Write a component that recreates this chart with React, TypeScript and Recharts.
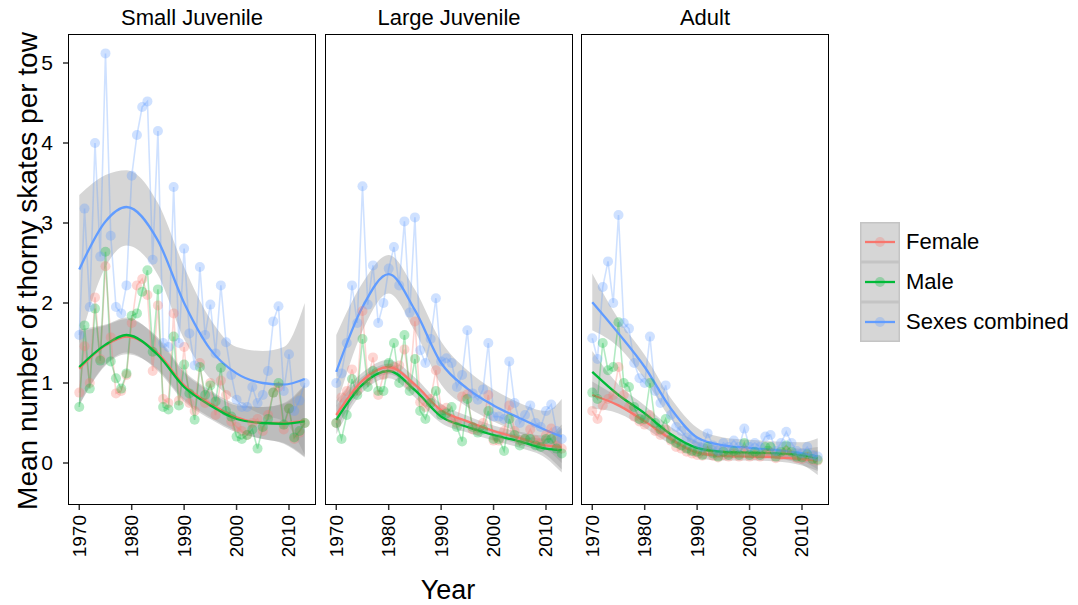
import { ComposedChart, Line, Area, XAxis, YAxis } from 'recharts';

const years = [
  1970, 1971, 1972, 1973, 1974, 1975, 1976, 1977, 1978, 1979,
  1980, 1981, 1982, 1983, 1984, 1985, 1986, 1987, 1988, 1989,
  1990, 1991, 1992, 1993, 1994, 1995, 1996, 1997, 1998, 1999,
  2000, 2001, 2002, 2003, 2004, 2005, 2006, 2007, 2008, 2009,
  2010, 2011, 2012, 2013,
];

const panels = ['Small Juvenile', 'Large Juvenile', 'Adult'];
const seriesNames = ['Female', 'Male', 'Sexes combined'];
const xTicks = [1970, 1980, 1990, 2000, 2010];
const yTicks = [0, 1, 2, 3, 4, 5];

// Small Juvenile
const sjFemale = [0.88, 1.46, 1.0, 2.07, 1.3, 2.46, 1.57, 0.87, 0.9, 1.1, 1.75, 2.22, 2.3, 2.1, 1.15, 1.97, 0.8, 0.75, 1.87, 0.78, 1.45, 0.75, 0.65, 1.25, 0.75, 1.0, 0.6, 1.03, 0.85, 0.52, 0.45, 0.4, 0.35, 0.5, 0.55, 0.4, 0.6, 0.88, 0.95, 0.42, 0.68, 0.3, 0.38, 0.5];
const sjMale = [0.7, 1.72, 0.93, 1.93, 1.28, 2.64, 1.27, 1.06, 0.93, 1.12, 1.84, 1.87, 2.14, 2.41, 1.39, 2.17, 0.7, 0.67, 1.58, 0.72, 1.23, 0.87, 0.54, 1.2, 0.85, 0.97, 0.77, 1.19, 0.65, 0.58, 0.33, 0.3, 0.35, 0.42, 0.18, 0.45, 0.55, 0.88, 1.0, 0.48, 0.68, 0.32, 0.4, 0.5];
const sjCombined = [1.6, 3.18, 1.95, 4.0, 2.58, 5.12, 2.84, 1.95, 1.87, 2.22, 3.59, 4.1, 4.45, 4.52, 2.54, 4.15, 1.5, 1.45, 3.45, 1.5, 2.68, 1.62, 1.22, 2.45, 1.6, 1.98, 1.37, 2.22, 1.51, 1.1, 0.79, 0.7, 0.7, 0.95, 0.75, 0.85, 1.15, 1.77, 1.96, 0.9, 1.36, 0.65, 0.78, 1.0];

const sjKnots = [1970, 1975, 1979, 1985, 1990, 1995, 2000, 2005, 2009, 2013];
const sjFemaleFit = [1.18, 1.47, 1.58, 1.37, 0.97, 0.74, 0.57, 0.5, 0.5, 0.53];
const sjFemaleLo = [0.72, 1.22, 1.36, 1.17, 0.79, 0.57, 0.4, 0.3, 0.25, 0.08];
const sjFemaleHi = [1.64, 1.72, 1.8, 1.57, 1.15, 0.91, 0.74, 0.7, 0.75, 0.98];
const sjMaleFit = [1.2, 1.48, 1.6, 1.35, 0.95, 0.72, 0.55, 0.5, 0.49, 0.52];
const sjMaleLo = [0.73, 1.23, 1.38, 1.15, 0.77, 0.55, 0.38, 0.3, 0.24, 0.07];
const sjMaleHi = [1.67, 1.73, 1.82, 1.55, 1.13, 0.89, 0.72, 0.7, 0.74, 0.97];
const sjCombinedFit = [2.42, 3.02, 3.2, 2.78, 2.0, 1.42, 1.12, 1.0, 0.98, 1.05];
const sjCombinedLo = [1.5, 2.45, 2.72, 2.35, 1.55, 1.05, 0.78, 0.6, 0.52, 0.1];
const sjCombinedHi = [3.35, 3.6, 3.66, 3.25, 2.45, 1.8, 1.45, 1.4, 1.45, 2.0];

// Large Juvenile
const ljFemale = [0.5, 0.82, 0.9, 1.17, 0.9, 1.9, 1.03, 1.32, 0.85, 1.1, 1.18, 1.2, 1.22, 1.42, 0.98, 1.77, 0.76, 0.7, 0.8, 1.16, 0.67, 0.69, 0.55, 0.5, 0.83, 0.86, 0.42, 0.41, 0.5, 0.85, 0.28, 0.28, 0.4, 0.72, 0.4, 0.28, 0.3, 0.42, 0.28, 0.25, 0.35, 0.43, 0.22, 0.18];
const ljMale = [0.5, 0.3, 0.6, 1.05, 0.85, 1.55, 0.95, 1.15, 0.9, 0.9, 1.25, 1.5, 1.0, 1.6, 0.9, 1.3, 0.65, 0.55, 0.75, 0.9, 0.6, 0.62, 0.7, 0.45, 0.27, 0.8, 0.45, 0.38, 0.42, 0.65, 0.3, 0.3, 0.15, 0.55, 0.35, 0.22, 0.3, 0.3, 0.22, 0.2, 0.3, 0.3, 0.18, 0.12];
const ljCombined = [1.0, 1.12, 1.5, 2.22, 1.75, 3.46, 1.98, 2.47, 1.75, 2.0, 2.43, 2.7, 2.22, 3.02, 1.88, 3.07, 1.41, 1.25, 1.55, 2.06, 1.27, 1.31, 1.25, 0.95, 1.1, 1.66, 0.87, 0.79, 0.92, 1.5, 0.58, 0.58, 0.55, 1.27, 0.75, 0.5, 0.6, 0.72, 0.5, 0.45, 0.65, 0.73, 0.4, 0.3];

const ljKnots = [1970, 1975, 1980, 1985, 1990, 1995, 2000, 2005, 2010, 2013];
const ljFemaleFit = [0.6, 1.03, 1.2, 0.98, 0.66, 0.52, 0.4, 0.31, 0.22, 0.2];
const ljFemaleLo = [0.42, 0.93, 1.11, 0.89, 0.58, 0.45, 0.33, 0.23, 0.1, -0.08];
const ljFemaleHi = [0.78, 1.13, 1.29, 1.07, 0.74, 0.59, 0.47, 0.39, 0.34, 0.48];
const ljMaleFit = [0.54, 0.98, 1.15, 0.91, 0.58, 0.45, 0.35, 0.27, 0.18, 0.16];
const ljMaleLo = [0.36, 0.88, 1.06, 0.82, 0.5, 0.38, 0.28, 0.19, 0.06, -0.12];
const ljMaleHi = [0.72, 1.08, 1.24, 1.0, 0.66, 0.52, 0.42, 0.35, 0.3, 0.44];
const ljCombinedFit = [1.14, 1.95, 2.36, 1.91, 1.25, 0.93, 0.72, 0.56, 0.41, 0.33];
const ljCombinedLo = [0.7, 1.65, 2.12, 1.65, 0.98, 0.7, 0.52, 0.37, 0.18, 0.0];
const ljCombinedHi = [1.6, 2.25, 2.6, 2.17, 1.52, 1.16, 0.92, 0.75, 0.65, 0.8];

// Adult
const adFemale = [0.65, 0.55, 0.72, 0.8, 0.85, 1.2, 0.85, 0.7, 0.58, 0.52, 0.48, 0.6, 0.4, 0.35, 0.42, 0.28, 0.2, 0.18, 0.14, 0.12, 0.1, 0.09, 0.15, 0.09, 0.07, 0.1, 0.08, 0.12, 0.08, 0.16, 0.08, 0.1, 0.08, 0.12, 0.13, 0.06, 0.1, 0.15, 0.1, 0.06, 0.05, 0.08, 0.04, 0.03];
const adMale = [0.88, 0.8, 1.5, 1.16, 1.2, 1.76, 1.0, 0.95, 0.7, 0.55, 0.55, 1.0, 0.5, 0.42, 0.55, 0.3, 0.25, 0.22, 0.18, 0.15, 0.14, 0.1, 0.2, 0.12, 0.08, 0.14, 0.1, 0.15, 0.1, 0.25, 0.1, 0.14, 0.1, 0.2, 0.2, 0.08, 0.14, 0.22, 0.14, 0.08, 0.07, 0.11, 0.05, 0.04];
const adCombined = [1.56, 1.3, 2.2, 2.52, 2.0, 3.1, 1.75, 1.68, 1.25, 1.06, 1.0, 1.58, 0.9, 0.75, 0.97, 0.6, 0.45, 0.4, 0.32, 0.3, 0.25, 0.2, 0.37, 0.22, 0.15, 0.25, 0.2, 0.28, 0.2, 0.43, 0.2, 0.25, 0.2, 0.33, 0.35, 0.15, 0.25, 0.39, 0.25, 0.15, 0.12, 0.2, 0.1, 0.08];

const adKnots = [1970, 1975, 1980, 1985, 1990, 1995, 2000, 2005, 2010, 2013];
const adFemaleFit = [0.85, 0.72, 0.52, 0.3, 0.13, 0.09, 0.08, 0.07, 0.05, 0.03];
const adFemaleLo = [0.68, 0.62, 0.44, 0.23, 0.07, 0.03, 0.03, 0.02, -0.03, -0.1];
const adFemaleHi = [1.02, 0.82, 0.6, 0.37, 0.19, 0.15, 0.13, 0.12, 0.13, 0.16];
const adMaleFit = [1.14, 0.85, 0.62, 0.36, 0.19, 0.14, 0.13, 0.12, 0.1, 0.06];
const adMaleLo = [0.88, 0.72, 0.52, 0.27, 0.11, 0.07, 0.07, 0.06, 0.02, -0.08];
const adMaleHi = [1.4, 0.98, 0.72, 0.45, 0.27, 0.21, 0.19, 0.18, 0.18, 0.2];
const adCombinedFit = [2.01, 1.62, 1.2, 0.68, 0.32, 0.22, 0.19, 0.16, 0.12, 0.08];
const adCombinedLo = [1.66, 1.45, 1.05, 0.55, 0.2, 0.12, 0.1, 0.06, -0.02, -0.15];
const adCombinedHi = [2.37, 1.8, 1.35, 0.81, 0.44, 0.32, 0.29, 0.27, 0.26, 0.31];

const COLORS = ['#F8766D', '#00BA38', '#619CFF'];
const KEYS = ['female', 'male', 'combined'];
const FONT = '"Liberation Sans", Arial, Helvetica, sans-serif';

const PLOT_TOP = 34;
const PLOT_H = 471;
const PLOT_W = 248;
const Y_AXIS_W = 68;
const X_AXIS_H = 66;
const panelLefts = [68, 325, 581];

function buildRows(obs: number[][], knots: number[], fits: number[][], los: number[][], his: number[][]) {
  return years.map((year, i) => {
    const row: any = { year };
    KEYS.forEach((k, s) => {
      row[k] = obs[s][i];
    });
    const j = knots.indexOf(year);
    if (j >= 0) {
      KEYS.forEach((k, s) => {
        row[k + 'Fit'] = fits[s][j];
        row[k + 'Band'] = [los[s][j], his[s][j]];
      });
    }
    return row;
  });
}

const panelRows = [
  buildRows(
    [sjFemale, sjMale, sjCombined], sjKnots,
    [sjFemaleFit, sjMaleFit, sjCombinedFit],
    [sjFemaleLo, sjMaleLo, sjCombinedLo],
    [sjFemaleHi, sjMaleHi, sjCombinedHi],
  ),
  buildRows(
    [ljFemale, ljMale, ljCombined], ljKnots,
    [ljFemaleFit, ljMaleFit, ljCombinedFit],
    [ljFemaleLo, ljMaleLo, ljCombinedLo],
    [ljFemaleHi, ljMaleHi, ljCombinedHi],
  ),
  buildRows(
    [adFemale, adMale, adCombined], adKnots,
    [adFemaleFit, adMaleFit, adCombinedFit],
    [adFemaleLo, adMaleLo, adCombinedLo],
    [adFemaleHi, adMaleHi, adCombinedHi],
  ),
];

const XTick = (props: any) => {
  const { x, y, payload } = props;
  const ty = y + 3;
  return (
    <text
      x={x}
      y={ty}
      transform={`rotate(-90 ${x} ${ty})`}
      textAnchor="end"
      dominantBaseline="central"
      fontSize={19}
      fontFamily={FONT}
      fill="#000"
    >
      {payload.value}
    </text>
  );
};

const Panel = ({ index }: { index: number }) => {
  const showY = index === 0;
  const width = showY ? PLOT_W + Y_AXIS_W : PLOT_W;
  const left = showY ? panelLefts[0] - Y_AXIS_W : panelLefts[index];
  return (
    <div style={{ position: 'absolute', left, top: 0 }}>
      <ComposedChart
        width={width}
        height={PLOT_TOP + PLOT_H + X_AXIS_H}
        data={panelRows[index]}
        margin={{ top: PLOT_TOP, right: 0, bottom: 0, left: 0 }}
      >
        <XAxis
          type="number"
          dataKey="year"
          domain={[1967.85, 2015.15]}
          ticks={xTicks}
          allowDataOverflow
          axisLine={false}
          tickSize={5}
          tickLine={{ stroke: '#333', strokeWidth: 1.5 }}
          tick={<XTick />}
          height={X_AXIS_H}
          interval={0}
        />
        <YAxis
          type="number"
          domain={[-0.525, 5.3625]}
          ticks={yTicks}
          allowDataOverflow
          hide={!showY}
          width={Y_AXIS_W}
          axisLine={false}
          tickSize={5}
          tickMargin={10}
          tickLine={{ stroke: '#333', strokeWidth: 1.5 }}
          tick={{ fontSize: 21, fill: '#000', fontFamily: FONT }}
          interval={0}
        />
        {KEYS.map((k, s) => (
          <Line
            key={k}
            dataKey={k}
            type="linear"
            stroke={COLORS[s]}
            strokeOpacity={0.3}
            strokeWidth={1.6}
            dot={{ r: 5, fill: COLORS[s], fillOpacity: 0.3, stroke: 'none' }}
            activeDot={false}
            isAnimationActive={false}
          />
        ))}
        {KEYS.map((k, s) => [
          <Area
            key={k + 'Band'}
            dataKey={k + 'Band'}
            type="monotone"
            connectNulls
            stroke="none"
            fill="#999999"
            fillOpacity={0.4}
            activeDot={false}
            isAnimationActive={false}
          />,
          <Line
            key={k + 'Fit'}
            dataKey={k + 'Fit'}
            type="monotone"
            connectNulls
            stroke={COLORS[s]}
            strokeWidth={2.3}
            dot={false}
            activeDot={false}
            isAnimationActive={false}
          />,
        ])}
      </ComposedChart>
      <div
        style={{
          position: 'absolute',
          left: showY ? Y_AXIS_W : 0,
          top: PLOT_TOP,
          width: PLOT_W,
          height: PLOT_H,
          border: '1.5px solid #000',
          boxSizing: 'border-box',
          pointerEvents: 'none',
        }}
      />
      <div
        style={{
          position: 'absolute',
          left: showY ? Y_AXIS_W : 0,
          top: 5,
          width: PLOT_W,
          textAlign: 'center',
          fontSize: 22,
          lineHeight: '26px',
          fontFamily: FONT,
          color: '#000',
        }}
      >
        {panels[index]}
      </div>
    </div>
  );
};

const LegendBox = () => (
  <div style={{ position: 'absolute', left: 860, top: 222, fontFamily: FONT }}>
    {seriesNames.map((name, s) => (
      <div key={name} style={{ display: 'flex', alignItems: 'center', height: 40 }}>
        <svg width={40} height={40} style={{ display: 'block' }}>
          <rect x={0.75} y={0.75} width={38.5} height={38.5} fill="#d6d6d6" stroke="#c4c4c4" strokeWidth={1.5} />
          <line x1={5} y1={20} x2={35} y2={20} stroke={COLORS[s]} strokeWidth={2.3} />
          <circle cx={20} cy={20} r={5} fill={COLORS[s]} fillOpacity={0.3} />
        </svg>
        <span style={{ marginLeft: 6, fontSize: 22, color: '#000', whiteSpace: 'nowrap' }}>{name}</span>
      </div>
    ))}
  </div>
);

export default function App() {
  return (
    <div style={{ position: 'absolute', left: 0, top: 0, width: 1078, height: 605, background: '#fff', overflow: 'hidden' }}>
      {panels.map((_p, i) => (
        <Panel key={i} index={i} />
      ))}
      <div
        style={{
          position: 'absolute',
          left: 28 - 260,
          top: 271 - 16,
          width: 520,
          height: 32,
          lineHeight: '32px',
          textAlign: 'center',
          transform: 'rotate(-90deg)',
          fontSize: 28,
          fontFamily: FONT,
          color: '#000',
          whiteSpace: 'nowrap',
        }}
      >
        Mean number of thorny skates per tow
      </div>
      <div
        style={{
          position: 'absolute',
          left: 348,
          top: 574,
          width: 200,
          lineHeight: '32px',
          textAlign: 'center',
          fontSize: 27,
          fontFamily: FONT,
          color: '#000',
        }}
      >
        Year
      </div>
      <LegendBox />
    </div>
  );
}
